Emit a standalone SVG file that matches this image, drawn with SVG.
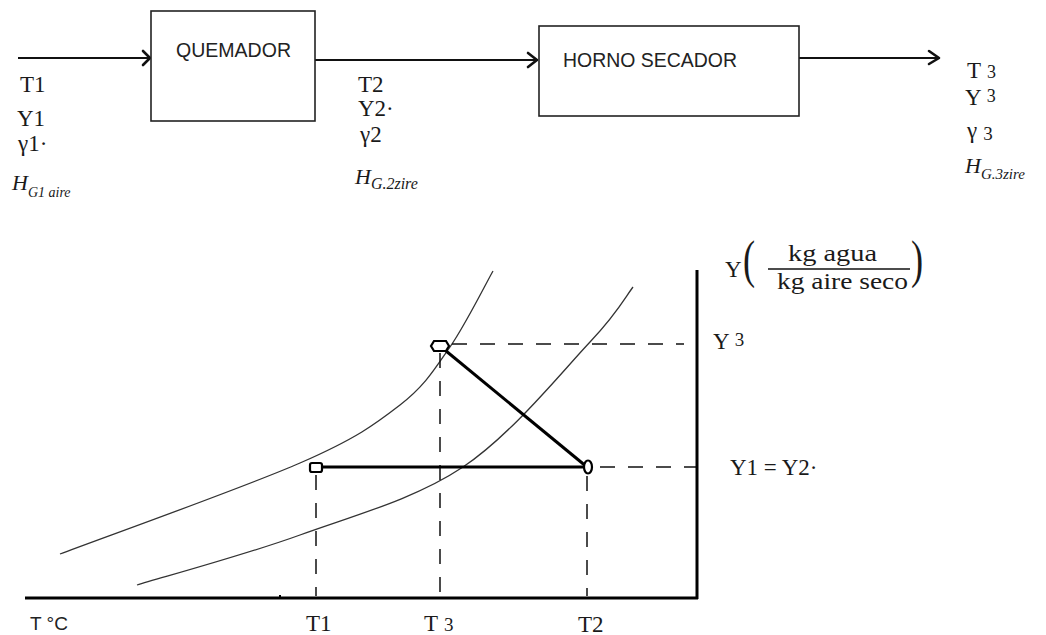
<svg xmlns="http://www.w3.org/2000/svg" width="1046" height="635" viewBox="0 0 1046 635">
<style>
.box{fill:#fff;stroke:#222;stroke-width:1.6}
.sans{font-family:"Liberation Sans",Arial,sans-serif;fill:#222}
.ser{font-family:"Liberation Serif","Times New Roman",serif;fill:#1a1a1a}
.it{font-family:"Liberation Serif","Times New Roman",serif;font-style:italic;fill:#1a1a1a}
.ln{stroke:#111;stroke-width:1.8;fill:none}
.arr{stroke:#111;stroke-width:2.6;fill:none;stroke-linecap:round;stroke-linejoin:round}
.curve{stroke:#333;stroke-width:1.3;fill:none}
.dash{stroke:#111;stroke-width:1.5;fill:none;stroke-dasharray:15 13}
.axis{stroke:#000;stroke-width:3;fill:none}
.thick{stroke:#000;stroke-width:3;fill:none}
.mk{stroke:#000;stroke-width:2.2;fill:#fff}
</style>
<rect width="1046" height="635" fill="#fff"/>

<g id="connectors">
  <line class="ln" x1="18" y1="58" x2="150" y2="58"/>
  <polyline class="arr" points="143,51 150,58 143,65"/>
  <line class="ln" x1="315" y1="60" x2="538" y2="60"/>
  <polyline class="arr" points="528,53 537,60 528,67"/>
  <line class="ln" x1="799" y1="58" x2="939" y2="58"/>
  <polyline class="arr" points="929,51 939,58 929,64"/>
</g>

<g id="quemador">
  <rect class="box" x="151" y="11" width="164" height="110"/>
  <text class="sans" x="176" y="57" font-size="20" textLength="115" lengthAdjust="spacingAndGlyphs">QUEMADOR</text>
</g>

<g id="horno">
  <rect class="box" x="539" y="26" width="260" height="90"/>
  <text class="sans" x="563" y="67" font-size="20" textLength="174" lengthAdjust="spacingAndGlyphs">HORNO SECADOR</text>
</g>

<g id="labels-1">
  <text class="ser" x="20" y="92" font-size="23">T1</text>
  <text class="ser" x="17" y="126" font-size="23">Y1</text>
  <text class="ser" x="18" y="151" font-size="23">γ1·</text>
  <text class="it" x="12" y="190" font-size="22">H<tspan font-size="14" dy="7">G1 aire</tspan></text>
</g>

<g id="labels-2">
  <text class="ser" x="358" y="92" font-size="23">T2</text>
  <text class="ser" x="358" y="116" font-size="23">Y2·</text>
  <text class="ser" x="360" y="142" font-size="23">γ2</text>
  <text class="it" x="355" y="184" font-size="22">H<tspan font-size="16" dy="5">G.2zire</tspan></text>
</g>

<g id="labels-3">
  <text class="ser" x="967" y="78" font-size="23">T<tspan font-size="18" dx="6">3</tspan></text>
  <text class="ser" x="965" y="105" font-size="23">Y<tspan font-size="18" dx="5" dy="-3">3</tspan></text>
  <text class="ser" x="967" y="138" font-size="23">γ<tspan font-size="19" dx="6" dy="2">3</tspan></text>
  <text class="it" x="965" y="173" font-size="22">H<tspan font-size="15" dy="6">G.3zire</tspan></text>
</g>

<g id="chart">
  <path class="curve" d="M60,554 C100,538.8 243.3,487.8 300,463 C356.7,438.2 375,424.3 400,405 C425,385.7 434.5,369.3 450,347 C465.5,324.7 485.8,283.7 493,271"/>
  <path class="curve" d="M137,585 C164.2,576.7 245.7,554.7 300,535 C354.3,515.3 414.7,499.2 463,467 C511.3,434.8 561.7,372 590,342 C618.3,312 625.8,296.2 633,287"/>

  <line class="dash" x1="452" y1="344" x2="684" y2="344"/>
  <line class="dash" x1="600" y1="467" x2="697" y2="467"/>
  <line class="dash" x1="316" y1="475" x2="316" y2="596"/>
  <line class="dash" x1="440" y1="353" x2="440" y2="596"/>
  <line class="dash" x1="587" y1="476" x2="587" y2="596"/>

  <line class="axis" x1="25" y1="598" x2="698" y2="598"/>
  <line class="axis" x1="697" y1="270" x2="697" y2="599"/>
  <rect x="279" y="595" width="2" height="2" fill="#000"/>

  <line class="thick" x1="316" y1="467" x2="587" y2="467"/>
  <line class="thick" x1="440" y1="346" x2="587" y2="467" stroke-width="2.6"/>
  <polygon class="mk" points="434,341 446,341 449,346 446,351 434,351 431,346"/>
  <rect class="mk" x="310" y="463" width="12" height="9" rx="2"/>
  <ellipse class="mk" cx="588" cy="467" rx="4" ry="6.5"/>

  <text class="sans" x="30" y="630" font-size="19">T °C</text>
  <text class="ser" x="306" y="631" font-size="23">T1</text>
  <text class="ser" x="424" y="631" font-size="23">T<tspan font-size="19" dx="6">3</tspan></text>
  <text class="ser" x="578" y="632" font-size="23">T2</text>

  <text class="ser" x="725" y="277" font-size="23">Y</text>
  <text class="ser" font-size="52" transform="translate(743,277) scale(0.7,1)">(</text>
  <text class="ser" x="788" y="261" font-size="24" textLength="89" lengthAdjust="spacingAndGlyphs">kg agua</text>
  <line x1="768" y1="269" x2="910" y2="269" stroke="#111" stroke-width="1.5"/>
  <text class="ser" x="777" y="289" font-size="24" textLength="131" lengthAdjust="spacingAndGlyphs">kg aire seco</text>
  <text class="ser" font-size="52" transform="translate(911,277) scale(0.7,1)">)</text>

  <text class="ser" x="713" y="349" font-size="23">Y<tspan font-size="19" dx="5" dy="-3">3</tspan></text>
  <text class="ser" x="730" y="475" font-size="23">Y1 =  Y2·</text>
</g>
</svg>
